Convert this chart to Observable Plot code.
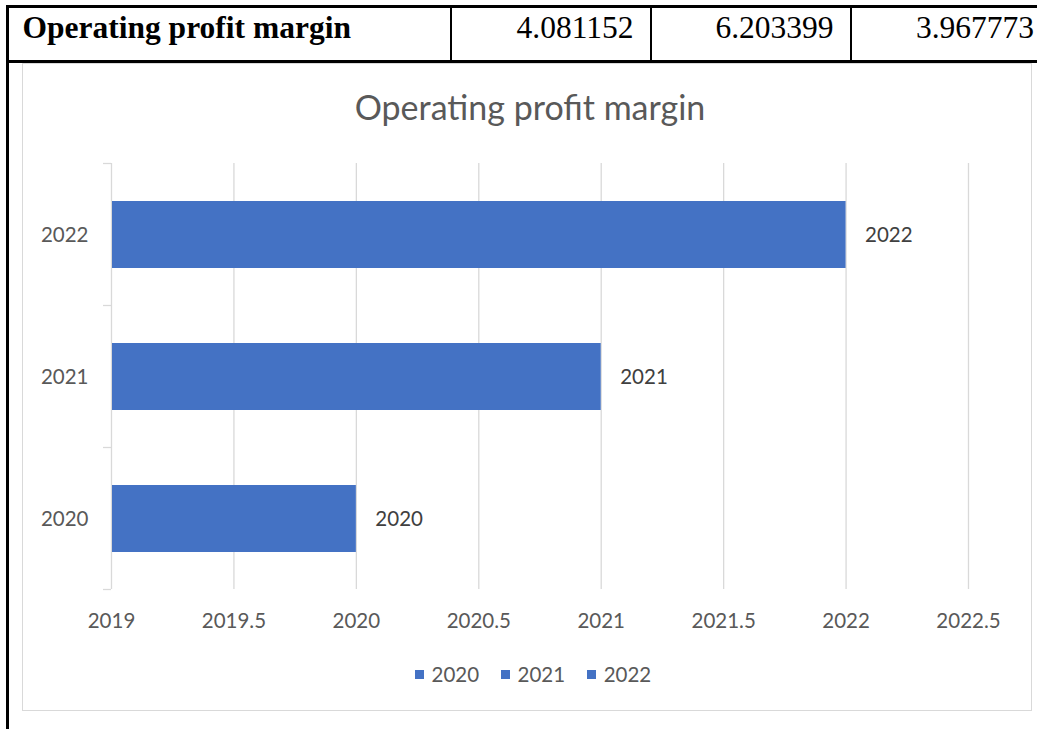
<!DOCTYPE html>
<html>
<head>
<meta charset="utf-8">
<script src="https://cdn.jsdelivr.net/npm/d3@7"></script>
<script src="https://cdn.jsdelivr.net/npm/@observablehq/plot@0.6"></script>
<style>
  html, body { margin: 0; padding: 0; background: #fff; }
  #page { position: relative; width: 1037px; height: 729px; overflow: hidden; background: #fff; }
  .abs { position: absolute; }
  .cell { position: absolute; font-family: "Liberation Serif", "Times New Roman", serif; font-size: 31.5px; line-height: 31.5px; color: #000; white-space: nowrap; }
  #title { position: absolute; left: 22px; width: 1016px; top: 90px; text-align: center; font-family: Lato, sans-serif; font-size: 34px; line-height: 34px; color: #595959; white-space: nowrap; }
  #legend { position: absolute; left: 415px; top: 664px; display: flex; align-items: center; font-family: Lato, sans-serif; font-size: 20.5px; line-height: 20.5px; color: #595959; }
  #legend .item { display: flex; align-items: center; margin-right: 22px; }
  #legend .sw { width: 8.5px; height: 8.5px; margin-right: 8px; }
  #chart { position: absolute; left: 0; top: 140px; }
</style>
</head>
<body>
<div id="page">
  <div id="frame" class="abs" style="left:22px;top:63px;width:1010px;height:648px;border:1.3px solid #d9d9d9;box-sizing:border-box;"></div>
  <div id="table"></div>
  <div id="title"></div>
  <div id="chart"></div>
  <div id="legend"></div>
</div>
<script>
// ---- data ----
const tableLabel = "Operating profit margin";
const tableValues = [4.081152, 6.203399, 3.967773];
const chartTitle = "Operating profit margin";
const categories = ["2020", "2021", "2022"];
const values = [2020, 2021, 2022];
const legendLabels = ["2020", "2021", "2022"];
const xMin = 2019;
const xMax = 2022.5;
const xTicks = [2019, 2019.5, 2020, 2020.5, 2021, 2021.5, 2022, 2022.5];

// ---- styles ----
const barColor = "#4472C4";
const gridColor = "#d9d9d9";
const labelColor = "#404040";

// ---- table row ----
(function buildTable() {
  const t = document.getElementById("table");
  const borders = [6, 449.5, 649.5, 849.5, 1050]; // left edges of vertical borders
  const top = 5, bottom = 62.5;
  const add = (css) => { const d = document.createElement("div"); d.className = "abs"; d.style.cssText = css; t.appendChild(d); return d; };
  add(`left:6px;top:${top}px;width:1100px;height:2.5px;background:#000;`);
  add(`left:6px;top:60px;width:1100px;height:2.5px;background:#000;`);
  add(`left:6px;top:${top}px;width:2.5px;height:730px;background:#000;`);
  borders.slice(1).forEach(x => add(`left:${x}px;top:${top}px;width:2.5px;height:${bottom - top}px;background:#000;`));
  const lab = document.createElement("div");
  lab.className = "cell"; lab.style.left = "22.5px"; lab.style.top = "12px"; lab.style.fontWeight = "bold";
  lab.textContent = tableLabel; t.appendChild(lab);
  tableValues.forEach((v, i) => {
    const c = document.createElement("div");
    c.className = "cell";
    const right = borders[i + 2];
    c.style.left = (right - 300) + "px"; c.style.width = (300 - 16) + "px"; c.style.textAlign = "right";
    c.style.top = "12px";
    c.textContent = String(v);
    t.appendChild(c);
  });
})();

// ---- title ----
document.getElementById("title").textContent = chartTitle;

// ---- chart ----
const data = categories.map((c, i) => ({category: c, value: values[i]}));
const yOrder = categories.slice().reverse();

const boundaryTicks = (index, scales, vals, dims) => {
  const y = scales.y;
  if (!y || typeof y.step !== "function") return null;
  const step = y.step(), bw = y.bandwidth();
  const off = (step - bw) / 2;
  const ys = yOrder.map(c => y(c) - off);
  ys.push(y(yOrder[yOrder.length - 1]) + bw + off);
  const x0 = dims.marginLeft;
  const g = d3.create("svg:g").attr("stroke", gridColor).attr("stroke-width", 1.3);
  g.selectAll("line").data(ys).join("line")
    .attr("x1", x0 - 8).attr("x2", x0)
    .attr("y1", d => d).attr("y2", d => d);
  return g.node();
};

const chart = Plot.plot({
  width: 1037,
  height: 510,
  marginLeft: 111,
  marginRight: 69,
  marginTop: 23,
  marginBottom: 61,
  style: {background: "transparent", fontFamily: "Lato, sans-serif", fontSize: "20.5px", color: "#595959", overflow: "visible"},
  x: {domain: [xMin, xMax]},
  y: {domain: yOrder, paddingInner: 0.53, paddingOuter: 0.265},
  marks: [
    Plot.ruleX(xTicks, {stroke: gridColor, strokeWidth: 1.3}),
    boundaryTicks,
    Plot.barX(data, {y: "category", x1: xMin, x2: "value", fill: barColor, insetLeft: 1}),
    Plot.text(data, {y: "category", x: "value", text: d => String(d.value), textAnchor: "start", dx: 19, fill: labelColor, fontSize: 20.5}),
    Plot.axisX({ticks: xTicks, tickSize: 0, tickPadding: 24, tickFormat: d => String(d), label: null}),
    Plot.axisY({tickSize: 0, tickPadding: 23, label: null})
  ]
});
document.getElementById("chart").appendChild(chart);

// ---- legend ----
const legend = document.getElementById("legend");
legendLabels.forEach(l => {
  const it = document.createElement("div"); it.className = "item";
  const sw = document.createElement("div"); sw.className = "sw"; sw.style.background = barColor;
  const tx = document.createElement("span"); tx.textContent = l;
  it.appendChild(sw); it.appendChild(tx); legend.appendChild(it);
});
</script>
</body>
</html>
